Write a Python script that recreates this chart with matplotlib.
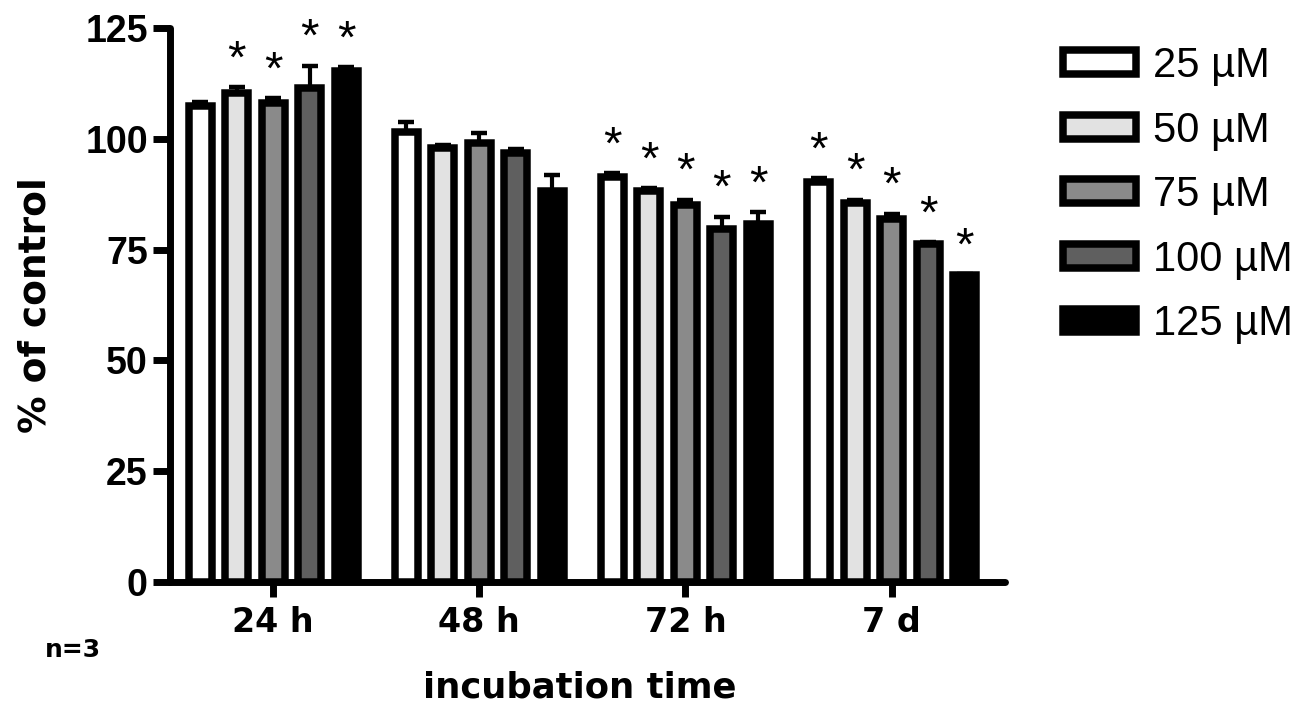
import numpy as np
import matplotlib
matplotlib.use("Agg")
import matplotlib.pyplot as plt

# data
times = ["24 h", "48 h", "72 h", "7 d"]
doses = ["25 µM", "50 µM", "75 µM", "100 µM", "125 µM"]
vals = [
    [107.3, 110.4, 108.1, 111.5, 115.3],   # 25 uM .. 125 uM at 24 h
    [101.6, 98.0, 99.1, 96.8, 88.3],
    [91.4, 88.3, 85.1, 79.7, 80.7],
    [90.3, 85.6, 81.9, 76.3, 69.2],
]
errs = [
    [1.0, 1.3, 1.0, 5.0, 0.8],
    [2.1, 0.5, 2.2, 0.8, 3.5],
    [0.8, 0.5, 1.2, 2.7, 2.8],
    [0.8, 0.7, 1.2, 0.4, 0.3],
]
sig = [
    [0, 1, 1, 1, 1],
    [0, 0, 0, 0, 0],
    [1, 1, 1, 1, 1],
    [1, 1, 1, 1, 1],
]
colors = ["#ffffff", "#e2e2e2", "#8a8a8a", "#5f5f5f", "#000000"]

vals = np.array(vals); errs = np.array(errs); sig = np.array(sig)

fig = plt.figure(figsize=(13.12, 7.12), dpi=100)
ax = fig.add_axes([170/1312, 1-582/712, (1005-170)/1312, (582-28)/712])

step, width = 0.177, 0.112
xg = np.arange(len(times))
handles = []
for j, d in enumerate(doses):
    x = xg + (j-2)*step
    b = ax.bar(x, vals[:, j], width, color=colors[j], edgecolor="black",
               linewidth=5.4, label=d, zorder=3)
    handles.append(b)
    ax.errorbar(x, vals[:, j], yerr=[np.zeros(len(times)), errs[:, j]], fmt="none",
                ecolor="black", elinewidth=3, capsize=6, capthick=3.2, zorder=2)
    for i in range(len(times)):
        if sig[i, j]:
            ax.text(x[i], vals[i, j]+errs[i, j]+3.3, "*", ha="center", va="baseline",
                    fontsize=34, family="Liberation Sans", zorder=4)

ax.set_xlim(-0.5, 3.55)
ax.set_ylim(0, 125)
ax.set_yticks([0, 25, 50, 75, 100, 125])
ax.set_xticks(xg)
ax.set_xticklabels(times, fontsize=24, fontweight="bold", family="DejaVu Sans")
for lab in ax.get_yticklabels():
    lab.set_fontsize(27); lab.set_fontweight("bold"); lab.set_family("Liberation Sans")
ax.tick_params(axis="y", direction="out", length=12, width=5, pad=4)
ax.tick_params(axis="x", direction="out", length=11, width=5, pad=6)
for s in ["top", "right"]:
    ax.spines[s].set_visible(False)
for s in ["left", "bottom"]:
    ax.spines[s].set_linewidth(5)
    ax.spines[s].set_capstyle("round")

fig.text(36/1312, 1-305/712, "% of control", rotation=90, ha="center", va="center",
         fontsize=27, fontweight="bold", family="DejaVu Sans")
fig.text(580/1312, 1-688/712, "incubation time", ha="center", va="center",
         fontsize=25.5, fontweight="bold", family="DejaVu Sans")
fig.text(45/1312, 1-650/712, "n=3", ha="left", va="center",
         fontsize=18, fontweight="bold", family="DejaVu Sans")

fig.legend(handles=handles, loc="upper left", bbox_to_anchor=(1063/1312, 1-46/712),
           frameon=False, borderpad=0, borderaxespad=0, handlelength=1.75,
           handleheight=0.5, handletextpad=0.4, labelspacing=0.59,
           prop={"family": "Liberation Sans", "size": 30})

fig.savefig("out.png", dpi=100)
